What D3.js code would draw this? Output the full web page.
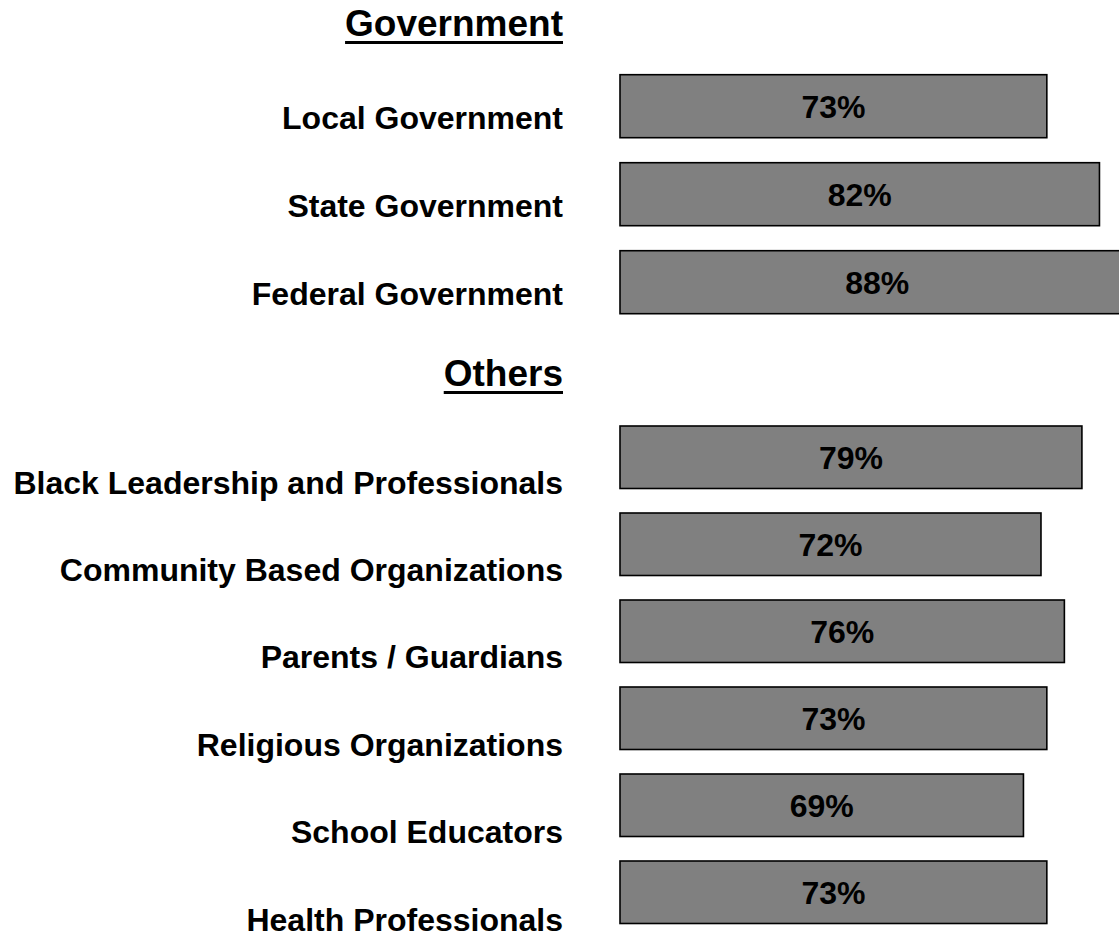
<!DOCTYPE html>
<html>
<head>
<meta charset="utf-8">
<script src="https://cdn.jsdelivr.net/npm/d3@7"></script>
<style>
  html, body { margin: 0; padding: 0; background: #fff; }
  svg { display: block; }
  text { font-family: "Liberation Sans", Arial, sans-serif; font-weight: bold; fill: #000; }
</style>
</head>
<body>
<svg id="chart" width="1119" height="939"></svg>
<script>
// ---- data ----
const groupTitles = ["Government", "Others"];
const govCategories = ["Local Government", "State Government", "Federal Government"];
const govValues = [73, 82, 88];
const otherCategories = [
  "Black Leadership and Professionals",
  "Community Based Organizations",
  "Parents / Guardians",
  "Religious Organizations",
  "School Educators",
  "Health Professionals"
];
const otherValues = [79, 72, 76, 73, 69, 73];

// ---- layout ----
const W = 1119, H = 939;
const svg = d3.select("#chart");
const labelX = 563;

const x = d3.scaleLinear().domain([0, 100]).range([620, 620 + 584.7]);

const groups = [
  {
    title: groupTitles[0], titleBase: 36,
    cats: govCategories, vals: govValues,
    bar: d3.scaleBand().domain(govCategories).range([74.7, 313.7]).paddingInner(25 / 88).paddingOuter(0),
    lab: d3.scalePoint().domain(govCategories).range([117, 293])
  },
  {
    title: groupTitles[1], titleBase: 386,
    cats: otherCategories, vals: otherValues,
    bar: d3.scaleBand().domain(otherCategories).range([426, 923.5]).paddingInner(24.5 / 87).paddingOuter(0),
    lab: d3.scalePoint().domain(otherCategories).range([482, 919])
  }
];

groups.forEach(g => {
  const data = g.cats.map((c, i) => ({ c, v: g.vals[i] }));
  const gg = svg.append("g");

  // title with underline
  const t = gg.append("text")
    .attr("x", labelX).attr("y", g.titleBase)
    .attr("text-anchor", "end")
    .style("font-size", "37px")
    .text(g.title);
  const tw = t.node().getComputedTextLength();
  gg.append("rect")
    .attr("x", labelX - tw).attr("y", g.titleBase + 5)
    .attr("width", tw).attr("height", 3)
    .attr("fill", "#000");

  // category labels
  gg.selectAll("text.cat").data(data).join("text")
    .attr("class", "cat")
    .attr("x", labelX)
    .attr("y", d => g.lab(d.c))
    .attr("dy", "0.36em")
    .attr("text-anchor", "end")
    .style("font-size", "32px")
    .text(d => d.c);

  // bars
  gg.selectAll("rect.bar").data(data).join("rect")
    .attr("class", "bar")
    .attr("x", x(0))
    .attr("y", d => g.bar(d.c))
    .attr("width", d => x(d.v) - x(0))
    .attr("height", g.bar.bandwidth())
    .attr("fill", "#808080")
    .attr("stroke", "#000")
    .attr("stroke-width", 1.6);

  // value labels
  gg.selectAll("text.val").data(data).join("text")
    .attr("class", "val")
    .attr("x", d => (x(0) + x(d.v)) / 2)
    .attr("y", d => g.bar(d.c) + g.bar.bandwidth() / 2)
    .attr("dy", "0.36em")
    .attr("text-anchor", "middle")
    .style("font-size", "32px")
    .text(d => d.v + "%");
});
</script>
</body>
</html>
